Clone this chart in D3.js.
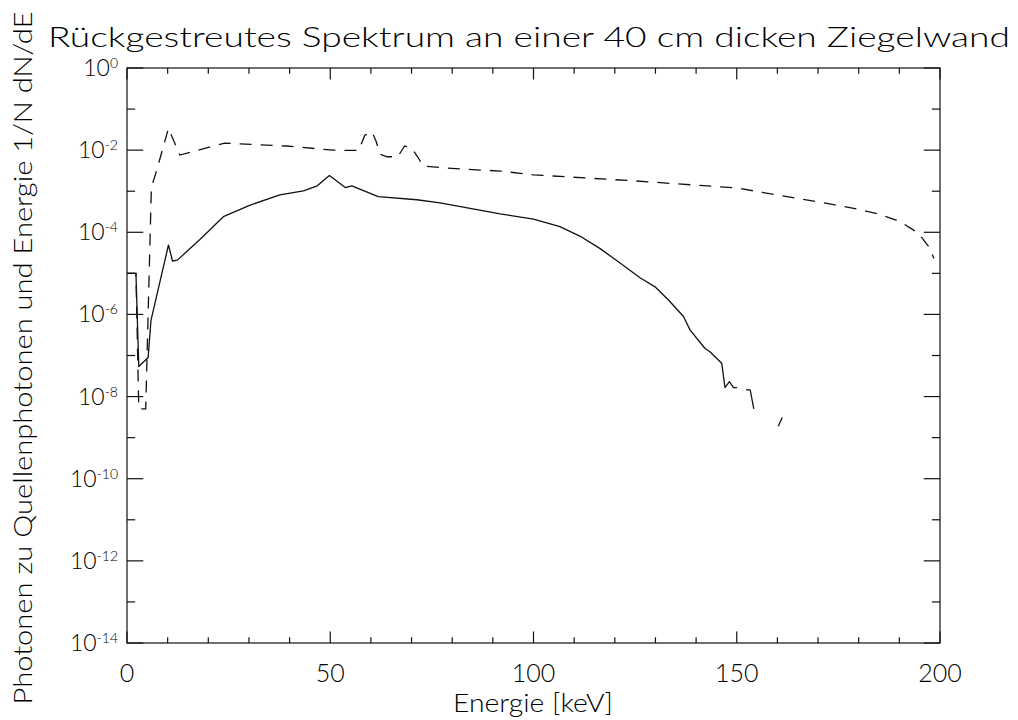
<!DOCTYPE html>
<html>
<head>
<meta charset="utf-8">
<script src="https://cdn.jsdelivr.net/npm/d3@7"></script>
<style>
  html, body { margin: 0; padding: 0; background: #fff; }
  text { font-family: Lato, "DejaVu Sans", sans-serif; font-weight: 300; fill: #000; }
</style>
</head>
<body>
<svg id="chart" width="1018" height="720"></svg>
<script>
// ---- data ----
const titleText = "Rückgestreutes Spektrum an einer 40 cm dicken Ziegelwand";
const xTitle = "Energie [keV]";
const yTitle = "Photonen zu Quellenphotonen und Energie 1/N dN/dE";

const xMajorTicks = [0, 50, 100, 150, 200];
const xMinorTicks = [10, 20, 30, 40, 60, 70, 80, 90, 110, 120, 130, 140, 160, 170, 180, 190];
const yMajorExponents = [0, -2, -4, -6, -8, -10, -12, -14];
const yMinorExponents = [-1, -3, -5, -7, -9, -11, -13];

// solid curve: energy [keV] and 1/N dN/dE (null = no value on log axis)
const solidEnergy = [0, 2.2, 2.9, 5.2, 5.9, 10.2, 11.2, 12.4, 18, 23.7, 30.3, 37.6, 43.4, 46.8, 49.8,
  53.7, 55.3, 61.8, 71.3, 77, 91.8, 100, 106.5, 111.4, 116.4, 121.3, 126.2, 129.9, 133.2, 136.9,
  138.5, 142.2, 143.4, 146.3, 147.1, 148.2, 149.2, 150.1, 151.2, 152.3, 153.3, 154.2, 155.2,
  160.2, 161.2, 162.2];
const solidValues = [1e-5, 1e-5, 5.4e-8, 8.9e-8, 7.2e-7, 4.9e-5, 2.0e-5, 2.1e-5, 6.8e-5, 2.4e-4, 4.6e-4, 8.1e-4, 1.02e-3, 1.35e-3, 2.4e-3,
  1.23e-3, 1.35e-3, 7.4e-4, 6.2e-4, 5.2e-4, 2.8e-4, 2.1e-4, 1.38e-4, 8.1e-5, 4.0e-5, 1.78e-5, 7.8e-6, 4.7e-6, 2.24e-6, 8.9e-7,
  4.2e-7, 1.48e-7, 1.23e-7, 6.5e-8, 1.66e-8, 2.3e-8, 1.66e-8, 1.66e-8, null, 1.45e-8, 1.45e-8, 5.0e-9, null,
  1.9e-9, 3.1e-9, null];

// dashed curve
const dashedEnergy = [0, 2.2, 2.9, 4.6, 6.0, 7.1, 10.2, 13.0, 24, 39.3, 50.7, 57, 58.5, 60.3, 61.3, 62.3,
  64, 66.6, 68.3, 70, 71.5, 72.8, 78, 84, 91.8, 100, 125, 150, 172.9, 179.5, 184.8, 190.2, 194.7, 197.5, 198.5];
const dashedValues = [1e-5, 1e-5, 5.0e-9, 5.0e-9, 1.26e-3, 2.75e-3, 3.4e-2, 7.6e-3, 1.48e-2, 1.26e-2, 1.0e-2, 9.8e-3, 2.3e-2, 2.8e-2, 1.62e-2, 7.9e-3,
  6.9e-3, 6.9e-3, 1.26e-2, 1.12e-2, 6.9e-3, 4.1e-3, 3.7e-3, 3.4e-3, 3.1e-3, 2.5e-3, 1.78e-3, 1.2e-3, 4.9e-4, 3.7e-4, 2.8e-4, 1.82e-4, 9.5e-5, 4.1e-5, 2.3e-5];

// ---- layout ----
const L = 127, R = 940, T = 68, B = 643;
const svg = d3.select("#chart");
svg.append("rect").attr("width", 1018).attr("height", 720).attr("fill", "#fff");

const x = d3.scaleLinear().domain([0, 200]).range([L, R]);
const y = d3.scaleLog().domain([1e-14, 1]).range([B, T]);

const xMajLen = 0.02 * (B - T), xMinLen = xMajLen / 2;
const yMajLen = 0.02 * (R - L), yMinLen = yMajLen / 2;

const ink = "#111";
const g = svg.append("g").attr("stroke", ink).attr("stroke-width", 1.2).attr("fill", "none");

// frame
g.append("rect").attr("x", x(0)).attr("y", y(1)).attr("width", x(200) - x(0)).attr("height", y(1e-14) - y(1));

// x ticks (bottom and top)
function xTick(v, len) {
  g.append("line").attr("x1", x(v)).attr("x2", x(v)).attr("y1", B).attr("y2", B - len);
  g.append("line").attr("x1", x(v)).attr("x2", x(v)).attr("y1", T).attr("y2", T + len);
}
xMajorTicks.forEach(v => xTick(v, xMajLen));
xMinorTicks.forEach(v => xTick(v, xMinLen));

function yTick(e, len) {
  const v = Math.pow(10, e);
  g.append("line").attr("x1", L).attr("x2", L + len).attr("y1", y(v)).attr("y2", y(v));
  g.append("line").attr("x1", R).attr("x2", R - len).attr("y1", y(v)).attr("y2", y(v));
}
yMajorExponents.forEach(e => yTick(e, yMajLen));
yMinorExponents.forEach(e => yTick(e, yMinLen));

// curves
const line = d3.line()
  .defined(d => d[1] !== null)
  .x(d => x(d[0]))
  .y(d => y(d[1]));

svg.append("path")
  .datum(solidEnergy.map((e, i) => [e, solidValues[i]]))
  .attr("d", line)
  .attr("fill", "none").attr("stroke", ink).attr("stroke-width", 1.3)
  .attr("stroke-linejoin", "round");

svg.append("path")
  .datum(dashedEnergy.map((e, i) => [e, dashedValues[i]]))
  .attr("d", line)
  .attr("fill", "none").attr("stroke", ink).attr("stroke-width", 1.3)
  .attr("stroke-dasharray", "12,9");

// x tick labels
svg.append("g").selectAll("text").data(xMajorTicks).join("text")
  .attr("x", d => x(d)).attr("y", 682)
  .attr("text-anchor", "middle").attr("font-size", 25)
  .text(d => d);

// y tick labels
yMajorExponents.forEach(e => {
  const t = svg.append("text").attr("x", 118).attr("y", y(Math.pow(10, e)) + 8)
    .attr("text-anchor", "end").attr("font-size", 23);
  t.append("tspan").text("10");
  t.append("tspan").attr("dy", -8).attr("font-size", 14).text(String(e));
});

// titles
svg.append("text").attr("x", 48).attr("y", 47).attr("font-size", 28)
  .attr("textLength", 962).attr("lengthAdjust", "spacingAndGlyphs").text(titleText);

svg.append("text").attr("x", 533).attr("y", 712).attr("text-anchor", "middle")
  .attr("font-size", 25).attr("textLength", 160).attr("lengthAdjust", "spacingAndGlyphs").text(xTitle);

svg.append("text")
  .attr("transform", "translate(32,358) rotate(-90)")
  .attr("text-anchor", "middle").attr("font-size", 26)
  .attr("textLength", 693).attr("lengthAdjust", "spacingAndGlyphs")
  .text(yTitle);
</script>
</body>
</html>
